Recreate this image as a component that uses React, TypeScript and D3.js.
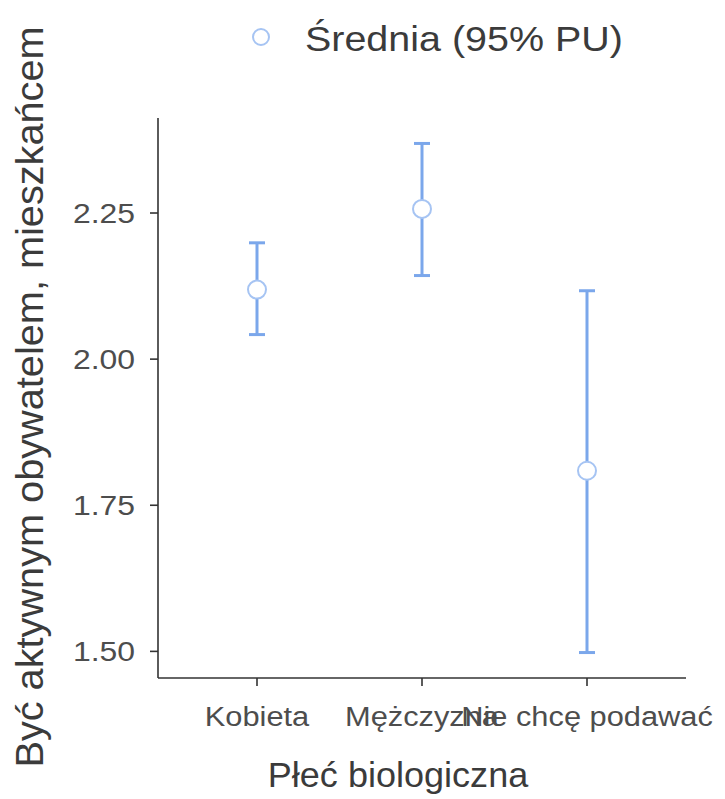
import React from "react";
import * as d3 from "d3";

const categories = ["Kobieta", "Mężczyzna", "Nie chcę podawać"];
const means = [2.119, 2.257, 1.809];
const lowers = [2.042, 2.143, 1.498];
const uppers = [2.199, 2.369, 2.117];
const yTicks = [1.5, 1.75, 2.0, 2.25];

const legendLabel = "Średnia (95% PU)";
const xTitle = "Płeć biologiczna";
const yTitle = "Być aktywnym obywatelem, mieszkańcem";

const W = 725;
const H = 799;
const FONT = "'Liberation Sans', Arial, Helvetica, sans-serif";
const BAR = "#7ba7eb";
const PT = "#a6c4f3";
const AXIS = "#333333";
const TICK_TXT = "#4d4d4d";
const TITLE_TXT = "#3b3b3b";

export default function App() {
  const left = 158, right = 686, top = 118, bottom = 678;
  const lo = d3.min(lowers) as number;
  const hi = d3.max(uppers) as number;
  const pad = (hi - lo) * 0.05;
  const y = d3.scaleLinear().domain([lo - pad, hi + pad]).range([bottom, top]);
  const x = d3.scalePoint<string>().domain(categories).range([left, right]).padding(0.6);
  const cap = 8;

  return (
    <svg width={W} height={H} style={{ position: "absolute", left: 0, top: 0, background: "#fff" }} fontFamily={FONT}>
      {/* legend */}
      <circle cx={261} cy={37} r={8} fill="#fff" stroke={PT} strokeWidth={2} />
      <text transform="translate(305,51) scale(1.096,1)" fontSize={36} fill={TITLE_TXT}>{legendLabel}</text>

      {/* axes */}
      <line x1={left} x2={left} y1={top} y2={bottom} stroke={AXIS} strokeWidth={1.6} />
      <line x1={left} x2={right} y1={bottom} y2={bottom} stroke={AXIS} strokeWidth={1.6} />
      {yTicks.map((t) => (
        <g key={t}>
          <line x1={left - 8} x2={left} y1={y(t)} y2={y(t)} stroke={AXIS} strokeWidth={1.6} />
          <text transform={`translate(135,${y(t) + 10}) scale(1.14,1)`} textAnchor="end" fontSize={28} fill={TICK_TXT}>
            {d3.format(".2f")(t)}
          </text>
        </g>
      ))}
      {categories.map((c) => (
        <g key={c}>
          <line x1={x(c)} x2={x(c)} y1={bottom} y2={bottom + 8} stroke={AXIS} strokeWidth={1.6} />
          <text transform={`translate(${x(c)},726) scale(1.1,1)`} textAnchor="middle" fontSize={28} fill={TICK_TXT}>
            {c}
          </text>
        </g>
      ))}

      {/* titles */}
      <text transform="translate(398,787) scale(1.03,1)" textAnchor="middle" fontSize={35} fill={TITLE_TXT}>{xTitle}</text>
      <text transform="translate(43,397) rotate(-90) scale(1.018,1)" textAnchor="middle" fontSize={39} fill={TITLE_TXT}>{yTitle}</text>

      {/* error bars */}
      {categories.map((c, i) => {
        const cx = x(c) as number;
        return (
          <g key={c}>
            <line x1={cx} x2={cx} y1={y(lowers[i])} y2={y(uppers[i])} stroke={BAR} strokeWidth={3} />
            <line x1={cx - cap} x2={cx + cap} y1={y(lowers[i])} y2={y(lowers[i])} stroke={BAR} strokeWidth={3} />
            <line x1={cx - cap} x2={cx + cap} y1={y(uppers[i])} y2={y(uppers[i])} stroke={BAR} strokeWidth={3} />
            <circle cx={cx} cy={y(means[i])} r={9} fill="#fff" stroke={PT} strokeWidth={2} />
          </g>
        );
      })}
    </svg>
  );
}
